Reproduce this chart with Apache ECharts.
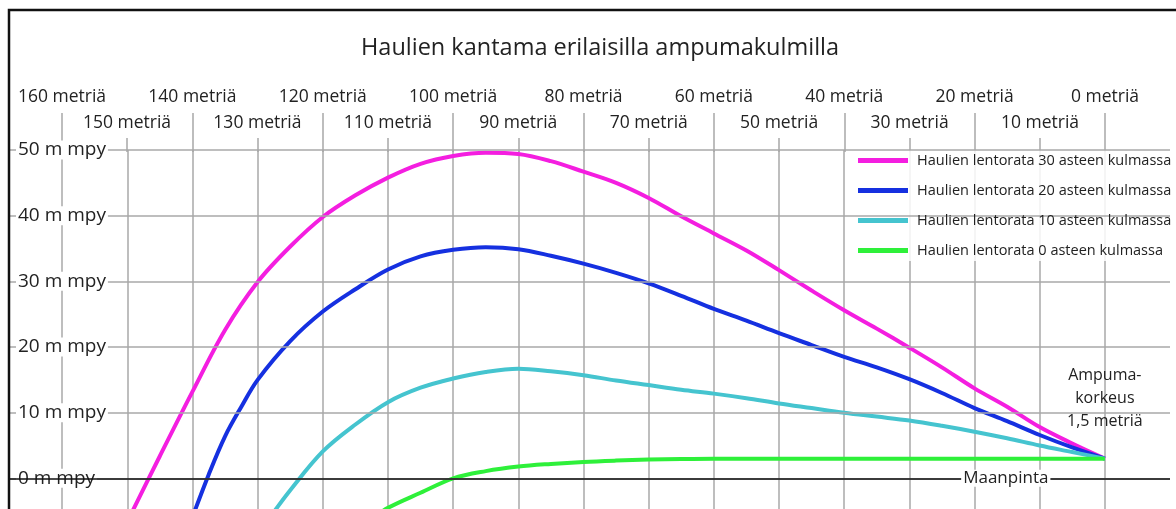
<!DOCTYPE html>
<html>
<head>
<meta charset="utf-8">
<title>Haulien kantama</title>
<style>
  html, body { margin: 0; padding: 0; background: #fff; }
  #chart { width: 1176px; height: 509px; }
</style>
<script src="https://cdn.jsdelivr.net/npm/echarts@6/dist/echarts.min.js"></script>
</head>
<body>
<div id="chart"></div>
<script>
// lentoradat: etaisyys (m) ja korkeus maanpinnasta (m mpy)
var names = [
  'Haulien lentorata 30 asteen kulmassa',
  'Haulien lentorata 20 asteen kulmassa',
  'Haulien lentorata 10 asteen kulmassa',
  'Haulien lentorata 0 asteen kulmassa'
]
var colors = ['#f41ee0', '#1530e0', '#45c4cf', '#2ef03a']

var dist30 = [0, 5, 10, 15, 20, 25, 30, 35, 40, 45, 50, 55, 60, 65, 70, 75, 80, 85, 90, 95, 100, 105, 110, 115, 120, 125, 130, 135, 140, 145, 150]
var height30 = [3.0, 5.3, 7.8, 10.9, 13.7, 16.9, 19.9, 22.8, 25.6, 28.6, 31.7, 34.7, 37.3, 39.9, 42.7, 45.0, 46.7, 48.3, 49.4, 49.6, 49.1, 47.9, 45.8, 43.1, 39.8, 35.3, 29.9, 22.6, 13.2, 3.4, -6.6]

var dist20 = [0, 5, 10, 15, 20, 25, 30, 35, 40, 45, 50, 55, 60, 65, 70, 75, 80, 85, 90, 95, 100, 105, 110, 115, 120, 125, 130, 132.5, 135, 137.5, 140]
var height20 = [3.0, 4.7, 6.6, 8.7, 10.7, 13.0, 15.1, 16.9, 18.5, 20.3, 22.1, 24.0, 25.8, 27.8, 29.7, 31.3, 32.7, 33.9, 34.9, 35.2, 34.8, 33.8, 31.8, 28.8, 25.4, 20.9, 15.0, 10.9, 6.4, 0.6, -5.9]

var dist10 = [0, 5, 10, 15, 20, 25, 30, 35, 40, 45, 50, 55, 60, 65, 70, 75, 80, 85, 90, 95, 100, 105, 110, 115, 120, 125, 128]
var height10 = [3.0, 4.0, 5.0, 6.1, 7.1, 8.0, 8.8, 9.4, 10.0, 10.7, 11.4, 12.2, 12.9, 13.5, 14.2, 14.9, 15.7, 16.3, 16.7, 16.2, 15.2, 13.8, 11.6, 8.2, 4.1, -1.8, -5.8]

var dist0 = [0, 10, 20, 30, 40, 50, 60, 65, 70, 75, 80, 85, 90, 95, 100, 105, 110, 113]
var height0 = [3.0, 3.0, 3.0, 3.0, 3.0, 3.0, 3.0, 2.95, 2.85, 2.7, 2.5, 2.2, 1.8, 1.1, 0, -2.2, -4.5, -6.5]

var gridGray = '#a8a8a8'
var textColor = '#222'

function pairs(d, h) {
  return d.map(function (x, i) { return [x, h[i]] })
}

var chart = echarts.init(document.getElementById('chart'))

var curves = [[dist30, height30], [dist20, height20], [dist10, height10], [dist0, height0]].map(function (c, i) {
  return {
    name: names[i],
    type: 'line',
    xAxisIndex: 0,
    yAxisIndex: 0,
    smooth: 0.35,
    symbol: 'none',
    z: 3,
    color: colors[i],
    lineStyle: { width: 4, color: colors[i] },
    data: pairs(c[0], c[1])
  }
})

chart.setOption({
  animation: false,
  textStyle: { fontFamily: 'Open Sans' },
  title: {
    text: 'Haulien kantama erilaisilla ampumakulmilla',
    left: 356,
    top: 31,
    textStyle: { fontSize: 23.5, fontWeight: 'normal', color: textColor, fontFamily: 'Open Sans' }
  },
  legend: {
    data: names,
    orient: 'vertical',
    left: 858,
    top: 150,
    icon: 'rect',
    itemWidth: 50,
    itemHeight: 5,
    itemGap: 15,
    padding: [3, 8, 3, 0],
    backgroundColor: 'rgba(255,255,255,0.85)',
    textStyle: { fontSize: 14.5, color: textColor, padding: [0, 0, 0, 4] }
  },
  grid: [
    { left: 10, right: 6, top: 150, height: 394, outerBoundsMode: 'none' },
    { left: 62, right: 71, top: 150, height: 2, outerBoundsMode: 'none' },
    { left: 127, right: 136, top: 150, height: 2, outerBoundsMode: 'none' }
  ],
  xAxis: [
    {
      gridIndex: 0,
      type: 'value',
      inverse: true,
      min: -10,
      max: 168,
      interval: 10,
      axisLine: { show: false },
      axisTick: { show: false },
      axisLabel: { show: false },
      splitLine: { show: true, showMinLine: false, showMaxLine: false, lineStyle: { color: gridGray, width: 1.5 } }
    },
    {
      gridIndex: 1,
      type: 'value',
      position: 'top',
      inverse: true,
      min: 0,
      max: 160,
      interval: 20,
      axisLine: { show: false },
      axisTick: { show: true, length: 39, lineStyle: { color: gridGray, width: 1.5 } },
      axisLabel: { margin: 44, fontSize: 17.5, color: textColor, formatter: function (v) { return v + ' metriä' } },
      splitLine: { show: false }
    },
    {
      gridIndex: 2,
      type: 'value',
      position: 'top',
      inverse: true,
      min: 10,
      max: 150,
      interval: 20,
      axisLine: { show: false },
      axisTick: { show: true, length: 14, lineStyle: { color: gridGray, width: 1.5 } },
      axisLabel: { margin: 18, fontSize: 17.5, color: textColor, formatter: function (v) { return v + ' metriä' } },
      splitLine: { show: false }
    }
  ],
  yAxis: [
    {
      gridIndex: 0,
      type: 'value',
      min: -10,
      max: 50,
      interval: 10,
      axisLine: { show: false },
      axisTick: { show: false },
      axisLabel: {
        inside: true,
        margin: 6,
        fontSize: 19,
        color: textColor,
        backgroundColor: '#fff',
        padding: [0, 2],
        formatter: function (v) { return v < 0 ? '' : v + ' m mpy' }
      },
      splitLine: { show: true, lineStyle: { color: gridGray, width: 1.5 } },
      z: 4
    },
    { gridIndex: 1, type: 'value', show: false },
    { gridIndex: 2, type: 'value', show: false }
  ],
  series: [
    {
      name: 'maanpinta',
      type: 'line',
      xAxisIndex: 0,
      yAxisIndex: 0,
      data: [],
      z: 1,
      markLine: {
        silent: true,
        symbol: 'none',
        label: { show: false },
        lineStyle: { color: '#111', width: 1.5, type: 'solid' },
        data: [[{ coord: [168, 0] }, { coord: [-10, 0] }]]
      },
      markPoint: {
        silent: true,
        symbol: 'circle',
        symbolSize: 0,
        data: [
          {
            coord: [15.2, 0],
            label: {
              show: true,
              position: 'inside',
              formatter: 'Maanpinta',
              fontSize: 17,
              color: textColor,
              backgroundColor: '#fff',
              padding: [0, 2]
            }
          },
          {
            coord: [0, 12.2],
            label: {
              show: true,
              position: 'inside',
              formatter: 'Ampuma-\nkorkeus\n1,5 metriä',
              fontSize: 16,
              lineHeight: 23,
              align: 'center',
              color: textColor
            }
          }
        ]
      }
    }
  ].concat(curves),
  graphic: [
    {
      type: 'rect',
      silent: true,
      z: 100,
      shape: { x: 9, y: 10, width: 1300, height: 700 },
      style: { fill: 'none', stroke: '#111', lineWidth: 2.5 }
    }
  ]
})
</script>
</body>
</html>
